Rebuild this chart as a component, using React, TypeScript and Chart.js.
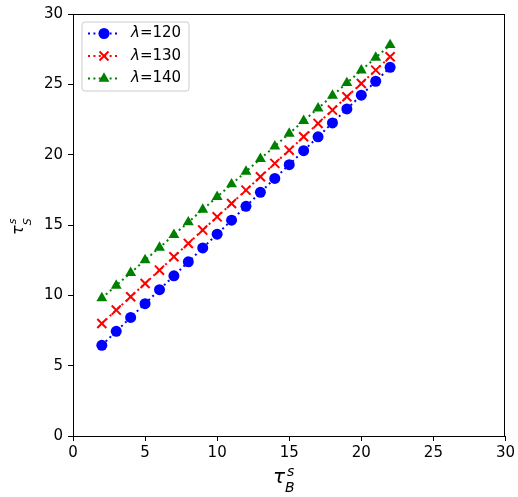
import React, { useEffect, useRef } from "react";
import { Chart, registerables } from "chart.js";

Chart.register(...registerables);

const xValues = [2, 3, 4, 5, 6, 7, 8, 9, 10, 11, 12, 13, 14, 15, 16, 17, 18, 19, 20, 21, 22];
const lambda120 = [6.45, 7.44, 8.43, 9.41, 10.4, 11.39, 12.38, 13.37, 14.35, 15.34, 16.33, 17.32, 18.31, 19.29, 20.28, 21.27, 22.26, 23.25, 24.23, 25.22, 26.21];
const lambda130 = [8.0, 8.95, 9.9, 10.84, 11.79, 12.74, 13.69, 14.64, 15.58, 16.53, 17.48, 18.43, 19.38, 20.32, 21.27, 22.22, 23.17, 24.12, 25.06, 26.01, 26.96];
const lambda140 = [9.8, 10.7, 11.6, 12.5, 13.4, 14.3, 15.2, 16.1, 17.0, 17.9, 18.8, 19.7, 20.6, 21.5, 22.4, 23.3, 24.2, 25.1, 26.0, 26.9, 27.8];
const lambdaLabels = ["120", "130", "140"];
const seriesColors = ["#0000ff", "#ff0000", "#008000"];
const seriesMarkers = ["circle", "crossRot", "triangle"];
const axisMin = 0;
const axisMax = 30;
const axisStep = 5;

const FONT = "'DejaVu Sans', sans-serif";
const DASH = [2, 3.4];

function drawMarker(ctx: CanvasRenderingContext2D, kind: string, x: number, y: number, color: string) {
  ctx.save();
  ctx.setLineDash([]);
  ctx.fillStyle = color;
  ctx.strokeStyle = color;
  if (kind === "circle") {
    ctx.beginPath();
    ctx.arc(x, y, 5.5, 0, Math.PI * 2);
    ctx.fill();
  } else if (kind === "crossRot") {
    const a = 4.5;
    ctx.lineWidth = 2;
    ctx.beginPath();
    ctx.moveTo(x - a, y - a);
    ctx.lineTo(x + a, y + a);
    ctx.moveTo(x - a, y + a);
    ctx.lineTo(x + a, y - a);
    ctx.stroke();
  } else {
    const r = 6.3;
    const side = Math.sqrt(3) * r;
    ctx.beginPath();
    ctx.moveTo(x, y - r);
    ctx.lineTo(x + side / 2, y + r / 2);
    ctx.lineTo(x - side / 2, y + r / 2);
    ctx.closePath();
    ctx.fill();
  }
  ctx.restore();
}

const decorPlugin = {
  id: "decor",
  afterDraw(chart: any) {
    const ctx: CanvasRenderingContext2D = chart.ctx;
    const { left, top, right, bottom } = chart.chartArea;
    ctx.save();
    // frame
    ctx.strokeStyle = "#000";
    ctx.lineWidth = 1;
    ctx.setLineDash([]);
    ctx.strokeRect(Math.round(left) + 0.5, Math.round(top) + 0.5, Math.round(right - left) - 1, Math.round(bottom - top));

    // x axis title: tau_B^s
    ctx.fillStyle = "#000";
    ctx.textBaseline = "alphabetic";
    ctx.textAlign = "left";
    ctx.font = `italic 20px ${FONT}`;
    const tx = 273;
    ctx.fillText("τ", tx, 483);
    const tw = ctx.measureText("τ").width;
    ctx.font = `italic 14px ${FONT}`;
    ctx.fillText("s", tx + tw + 2, 476);
    ctx.fillText("B", tx + tw, 492);

    // y axis title: tau_S^s (rotated)
    ctx.save();
    ctx.translate(23, 235);
    ctx.rotate(-Math.PI / 2);
    ctx.font = `italic 16px ${FONT}`;
    ctx.fillText("τ", 0, 0);
    const tw2 = ctx.measureText("τ").width;
    ctx.font = `italic 11px ${FONT}`;
    ctx.fillText("s", tw2 + 1, -7);
    ctx.fillText("S", tw2, 8);
    ctx.restore();

    // legend
    const lx = 82, ly = 22, lw = 107, lh = 69, rr = 3;
    ctx.beginPath();
    ctx.moveTo(lx + rr, ly);
    ctx.lineTo(lx + lw - rr, ly);
    ctx.arcTo(lx + lw, ly, lx + lw, ly + rr, rr);
    ctx.lineTo(lx + lw, ly + lh - rr);
    ctx.arcTo(lx + lw, ly + lh, lx + lw - rr, ly + lh, rr);
    ctx.lineTo(lx + rr, ly + lh);
    ctx.arcTo(lx, ly + lh, lx, ly + lh - rr, rr);
    ctx.lineTo(lx, ly + rr);
    ctx.arcTo(lx, ly, lx + rr, ly, rr);
    ctx.closePath();
    ctx.fillStyle = "rgba(255,255,255,0.8)";
    ctx.fill();
    ctx.strokeStyle = "#cccccc";
    ctx.lineWidth = 1;
    ctx.stroke();

    lambdaLabels.forEach((lab, i) => {
      const cy = 33.5 + i * 22.5;
      const color = seriesColors[i];
      ctx.save();
      ctx.strokeStyle = color;
      ctx.lineWidth = 2;
      ctx.setLineDash(DASH);
      ctx.beginPath();
      ctx.moveTo(88, cy);
      ctx.lineTo(120, cy);
      ctx.stroke();
      ctx.restore();
      drawMarker(ctx, seriesMarkers[i], 104, cy, color);
      ctx.fillStyle = "#000";
      ctx.textBaseline = "middle";
      ctx.font = `italic 15px ${FONT}`;
      ctx.fillText("λ", 131, cy);
      const lwid = ctx.measureText("λ").width;
      ctx.font = `15px ${FONT}`;
      ctx.fillText("=" + lab, 131 + lwid, cy);
    });
    ctx.restore();
  },
};

export default function App() {
  const ref = useRef<HTMLCanvasElement | null>(null);
  useEffect(() => {
    if (!ref.current) return;
    const seriesData = [lambda120, lambda130, lambda140];
    const chart = new Chart(ref.current, {
      type: "line",
      data: {
        datasets: seriesData.map((vals, i) => ({
          label: "λ=" + lambdaLabels[i],
          data: xValues.map((x, j) => ({ x, y: vals[j] })),
          borderColor: seriesColors[i],
          backgroundColor: seriesColors[i],
          borderWidth: 2,
          borderDash: DASH,
          pointStyle: seriesMarkers[i] as any,
          pointRadius: i === 0 ? 5.5 : i === 1 ? 6.4 : 6.3,
          pointBorderWidth: i === 1 ? 2 : 0,
          pointBorderColor: seriesColors[i],
          pointBackgroundColor: seriesColors[i],
          fill: false,
          tension: 0,
        })),
      },
      options: {
        responsive: false,
        animation: false,
        events: [],
        layout: { padding: { top: 14, right: 11, left: 0, bottom: 0 } },
        plugins: { legend: { display: false }, tooltip: { enabled: false } },
        scales: {
          x: {
            type: "linear",
            min: axisMin,
            max: axisMax,
            afterFit: (s: any) => { s.height = 61; },
            ticks: { stepSize: axisStep, color: "#000", font: { family: FONT, size: 15 }, padding: 3, maxRotation: 0 },
            grid: { drawOnChartArea: false, drawTicks: true, tickLength: 5, color: "#000", tickColor: "#000" },
            border: { display: false },
          },
          y: {
            type: "linear",
            min: axisMin,
            max: axisMax,
            afterFit: (s: any) => { s.width = 73; },
            ticks: { stepSize: axisStep, color: "#000", font: { family: FONT, size: 15 }, padding: 5 },
            grid: { drawOnChartArea: false, drawTicks: true, tickLength: 5, color: "#000", tickColor: "#000" },
            border: { display: false },
          },
        },
      },
      plugins: [decorPlugin],
    });
    return () => chart.destroy();
  }, []);
  return (
    <div style={{ position: "absolute", left: 0, top: 0, width: 518, height: 497, background: "#fff" }}>
      <canvas ref={ref} width={518} height={497} style={{ width: 518, height: 497, display: "block" }} />
    </div>
  );
}
